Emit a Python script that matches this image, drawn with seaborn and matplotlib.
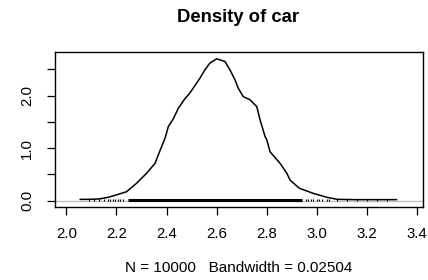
import matplotlib
matplotlib.use("Agg")
import matplotlib.pyplot as plt
import seaborn as sns
import pandas as pd

# Density curve
dens_x = [2.055, 2.10, 2.134, 2.168, 2.20, 2.24, 2.28, 2.32, 2.354, 2.367, 2.394, 2.407,
          2.427, 2.447, 2.47, 2.493, 2.533, 2.553, 2.573, 2.60, 2.633, 2.653, 2.673,
          2.686, 2.706, 2.733, 2.76, 2.773, 2.793, 2.80, 2.813, 2.853, 2.88, 2.893,
          2.93, 2.985, 3.04, 3.08, 3.15, 3.25, 3.318]
dens_y = [0.025, 0.027, 0.035, 0.065, 0.11, 0.17, 0.33, 0.52, 0.71, 0.87, 1.19, 1.41,
          1.56, 1.76, 1.92, 2.05, 2.33, 2.49, 2.62, 2.70, 2.65, 2.49, 2.30,
          2.14, 1.98, 1.92, 1.79, 1.54, 1.22, 1.156, 0.93, 0.71, 0.52, 0.39,
          0.236, 0.14, 0.064, 0.026, 0.02, 0.02, 0.02]

# Rug: dense band of observations and sparse tail observations
rug_band = [2.246, 2.94]
rug_tail = [2.09, 2.11, 2.13, 2.15, 2.166, 2.175, 2.185, 2.195, 2.205, 2.215, 2.226,
            2.955, 2.965, 2.975, 2.985, 3.0, 3.01, 3.02, 3.04, 3.05,
            3.08, 3.12, 3.16, 3.2, 3.24, 3.28]

xticks = [2.0, 2.2, 2.4, 2.6, 2.8, 3.0, 3.2, 3.4]
yticks = [0.0, 0.5, 1.0, 1.5, 2.0, 2.5]
ytick_labels = ["0.0", "", "1.0", "", "2.0", ""]

title = "Density of car"
xlabel = "N = 10000   Bandwidth = 0.02504"

sns.set_style("white")
plt.rcParams["font.family"] = ["Liberation Sans", "DejaVu Sans"]

fig = plt.figure(figsize=(4.28, 2.80), dpi=100)
ax = fig.add_axes([55/428, 1 - 207/280, 368/428, 155/280])

ax.axhline(0, color="#BEBEBE", lw=1.0, zorder=1)

# rug band
ax.plot(rug_band, [0.005, 0.005], color="black", lw=2.2, solid_capstyle="butt", zorder=2)
ax.vlines(rug_tail, -0.015, 0.03, color="black", lw=0.8, zorder=2)

df = pd.DataFrame({"x": dens_x, "y": dens_y})
sns.lineplot(data=df, x="x", y="y", sort=False, color="black", lw=1.1, ax=ax, zorder=3)

ax.set_xlim(1.955, 3.423)
ax.set_ylim(-0.12, 2.83)
ax.set_xticks(xticks)
ax.set_xticklabels([f"{t:.1f}" for t in xticks])
ax.set_yticks(yticks)
ax.set_yticklabels(ytick_labels, rotation=90, va="center")

ax.tick_params(axis="both", direction="out", length=6, width=0.9, color="black",
               labelsize=10.8, labelcolor="black", left=True, bottom=True)
ax.tick_params(axis="x", pad=8.5)
ax.tick_params(axis="y", pad=9)
for s in ax.spines.values():
    s.set_visible(True)
    s.set_color("black")
    s.set_linewidth(1.0)

ax.set_xlabel(xlabel, fontsize=11, color="black")
ax.xaxis.set_label_coords(0.5, (207 - 268) / 155)
ax.xaxis.label.set_va("center")
ax.set_ylabel("")
fig.text(238/428, 1 - 18/280, title, ha="center", va="center", fontsize=13.3,
         fontweight="bold", color="black")

fig.savefig("out.png", dpi=100)
